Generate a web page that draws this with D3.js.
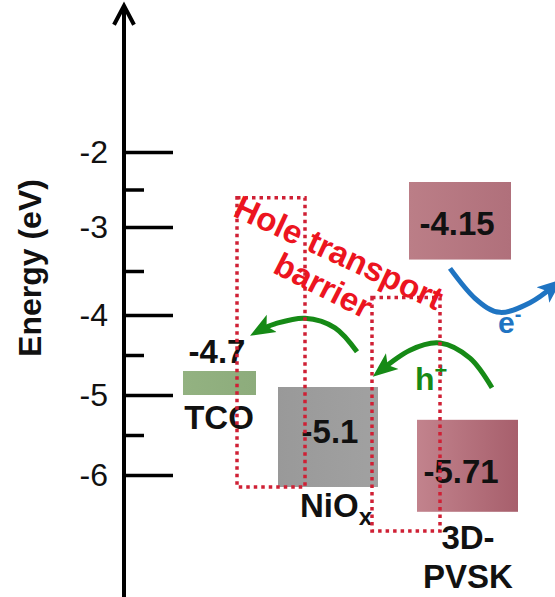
<!DOCTYPE html>
<html>
<head>
<meta charset="utf-8">
<script src="https://cdn.jsdelivr.net/npm/d3@7"></script>
<style>
  body { margin: 0; background: #fff; }
  svg { display: block; font-family: "Liberation Sans", Arial, sans-serif; }
</style>
</head>
<body>
<div class="chart"></div>
<script>
const width = 555
const height = 597

// axis ticks (eV)
const energyTicks = [-2, -3, -4, -5, -6]
const minorTicks = [-2.5, -3.5, -4.5, -5.5]

// energy levels, one entry per box
const layers = ['TCO', 'NiOx', 'PVSK-CB', 'PVSK-VB']
const colStart = [0.59, 1.54, 2.85, 2.93]
const colEnd = [1.32, 2.54, 3.87, 3.94]
const levelTop = [-4.7, -4.9, -2.4, -5.31]
const levelBottom = [-5.0, -6.15, -3.37, -6.46]
const levelText = ['-4.7', '-5.1', '-4.15', '-5.71']
const levelTextX = [0.93, 2.06, 3.33, 3.37]
const levelTextE = [-4.6, -5.6, -3.09, -6.1]

// layer names
const names = ['TCO', 'NiO', '3D-', 'PVSK']
const nameX = [0.95, 1.76, 3.44, 3.44]
const nameE = [-5.43, -6.53, -6.92, -7.41]

// dotted "hole transport barrier" frames
const barrierX0 = [1.13, 2.48]
const barrierX1 = [1.81, 3.16]
const barrierTop = [-2.61, -3.8]
const barrierBottom = [-6.15, -6.7]

// carrier arrows [x, energy]
const holeArrow1 = [[2.33, -4.46], [2.11, -4.16], [1.81, -4.04], [1.51, -4.11], [1.33, -4.21]]
const holeArrow2 = [[3.68, -4.91], [3.46, -4.54], [3.16, -4.35], [2.86, -4.44], [2.55, -4.71]]
const electronArrow = [[3.26, -3.47], [3.51, -3.81], [3.76, -3.97], [4.06, -3.86], [4.32, -3.65]]

const svg = d3.select('.chart')
  .append('svg')
  .attr('width', width)
  .attr('height', height)

const xScale = d3.scaleLinear()
  .domain([0, 4])
  .range([124, 524])

// hand drawn axis: tick spacing is not even, so a piecewise scale
const yScale = d3.scaleLinear()
  .domain([-2, -3, -4, -5, -6])
  .range([152, 227, 315, 395, 475])

const defs = svg.append('defs')

function gradient(id, c0, c1) {
  const g = defs.append('linearGradient').attr('id', id)
  g.append('stop').attr('offset', '0%').attr('stop-color', c0)
  g.append('stop').attr('offset', '100%').attr('stop-color', c1)
}
gradient('gTCO', '#93b281', '#8dac7c')
gradient('gNiO', '#999999', '#a1a1a1')
gradient('gCB', '#bb7e87', '#b0707b')
gradient('gVB', '#c2838d', '#a75f6c')
const fills = ['url(#gTCO)', 'url(#gNiO)', 'url(#gCB)', 'url(#gVB)']

function marker(id, color) {
  defs.append('marker')
    .attr('id', id)
    .attr('viewBox', '0 -11 25 22')
    .attr('refX', 17)
    .attr('refY', 0)
    .attr('markerUnits', 'userSpaceOnUse')
    .attr('markerWidth', 25)
    .attr('markerHeight', 22)
    .attr('orient', 'auto')
    .append('path')
    .attr('d', 'M0,-10L25,0L0,10L6,0Z')
    .attr('fill', color)
}
marker('headGreen', '#168a16')
marker('headBlue', '#1f74c2')

// y axis
const axisX = xScale(0)
const axisGroup = svg.append('g').attr('transform', `translate(${axisX},0)`)

const yAxis = d3.axisLeft(yScale)
  .tickValues(energyTicks)
  .tickSize(-49)
  .tickPadding(16)
  .tickFormat(d => String(d))

const yMinor = d3.axisLeft(yScale)
  .tickValues(minorTicks)
  .tickSize(-20)
  .tickFormat('')

axisGroup.call(yAxis)
axisGroup.append('g').call(yMinor)
axisGroup.selectAll('.domain').remove()
axisGroup.selectAll('.tick line')
  .attr('stroke', '#000')
  .attr('stroke-width', 3.5)
axisGroup.selectAll('.tick text')
  .attr('fill', '#111')
  .attr('font-size', '32px')
  .attr('font-family', '"Liberation Sans", Arial, sans-serif')

axisGroup.append('line')
  .attr('y1', yScale(-0.05))
  .attr('y2', height)
  .attr('stroke', '#000')
  .attr('stroke-width', 4)
axisGroup.append('path')
  .attr('d', `M-10,${yScale(-0.05) + 19}L0,${yScale(-0.05)}L10,${yScale(-0.05) + 19}`)
  .attr('fill', 'none')
  .attr('stroke', '#000')
  .attr('stroke-width', 4)

svg.append('text')
  .attr('transform', `translate(41, 268) rotate(-90)`)
  .attr('text-anchor', 'middle')
  .attr('font-size', '32px')
  .attr('font-weight', 'bold')
  .attr('fill', '#111')
  .text('Energy (eV)')

// level boxes
svg.selectAll('rect.level')
  .data(layers)
  .enter()
  .append('rect')
  .attr('class', 'level')
  .attr('x', (d, i) => xScale(colStart[i]))
  .attr('width', (d, i) => xScale(colEnd[i]) - xScale(colStart[i]))
  .attr('y', (d, i) => yScale(levelTop[i]))
  .attr('height', (d, i) => yScale(levelBottom[i]) - yScale(levelTop[i]))
  .attr('fill', (d, i) => fills[i])

svg.selectAll('text.level')
  .data(levelText)
  .enter()
  .append('text')
  .attr('class', 'level')
  .attr('x', (d, i) => xScale(levelTextX[i]))
  .attr('y', (d, i) => yScale(levelTextE[i]))
  .attr('text-anchor', 'middle')
  .attr('font-size', '33px')
  .attr('font-weight', 'bold')
  .attr('fill', '#111')
  .text(d => d)

const nameText = svg.selectAll('text.name')
  .data(names)
  .enter()
  .append('text')
  .attr('class', 'name')
  .attr('x', (d, i) => xScale(nameX[i]))
  .attr('y', (d, i) => yScale(nameE[i]))
  .attr('text-anchor', (d, i) => i === 1 ? 'start' : 'middle')
  .attr('font-size', '33px')
  .attr('font-weight', 'bold')
  .attr('fill', '#111')
  .text(d => d)
nameText.filter((d, i) => i === 1)
  .append('tspan')
  .attr('font-size', '24px')
  .attr('dy', 8)
  .text('x')

// carrier arrows
const curve = d3.line()
  .x(d => xScale(d[0]))
  .y(d => yScale(d[1]))
  .curve(d3.curveCardinal)

svg.append('path').attr('d', curve(holeArrow1))
  .attr('fill', 'none').attr('stroke', '#168a16').attr('stroke-width', 5)
  .attr('marker-end', 'url(#headGreen)')
svg.append('path').attr('d', curve(holeArrow2))
  .attr('fill', 'none').attr('stroke', '#168a16').attr('stroke-width', 5)
  .attr('marker-end', 'url(#headGreen)')
svg.append('path').attr('d', curve(electronArrow))
  .attr('fill', 'none').attr('stroke', '#1f74c2').attr('stroke-width', 5)
  .attr('marker-end', 'url(#headBlue)')

const hText = svg.append('text')
  .attr('x', xScale(2.91)).attr('y', yScale(-4.94))
  .attr('font-size', '32px').attr('font-weight', 'bold').attr('fill', '#168a16')
  .text('h')
hText.append('tspan').attr('font-size', '22px').attr('dy', -12).text('+')

const eText = svg.append('text')
  .attr('x', xScale(3.74)).attr('y', yScale(-4.225))
  .attr('font-size', '30px').attr('font-weight', 'bold').attr('fill', '#1f74c2')
  .text('e')
eText.append('tspan').attr('font-size', '20px').attr('dy', -12).text('-')

// barrier frames
svg.selectAll('rect.barrier')
  .data(barrierX0)
  .enter()
  .append('rect')
  .attr('class', 'barrier')
  .attr('x', (d, i) => xScale(barrierX0[i]))
  .attr('width', (d, i) => xScale(barrierX1[i]) - xScale(barrierX0[i]))
  .attr('y', (d, i) => yScale(barrierTop[i]))
  .attr('height', (d, i) => yScale(barrierBottom[i]) - yScale(barrierTop[i]))
  .attr('fill', 'none')
  .attr('stroke', '#cf2035')
  .attr('stroke-width', 3.5)
  .attr('stroke-dasharray', '3.5 4')

svg.append('text')
  .attr('transform', `translate(${xScale(2.10)}, ${yScale(-3.41)}) rotate(25)`)
  .attr('text-anchor', 'middle')
  .attr('font-size', '33px').attr('font-weight', 'bold').attr('fill', '#ec1420')
  .text('Hole transport')
svg.append('text')
  .attr('transform', `translate(${xScale(1.94)}, ${yScale(-3.78)}) rotate(27)`)
  .attr('text-anchor', 'middle')
  .attr('font-size', '33px').attr('font-weight', 'bold').attr('fill', '#ec1420')
  .text('barrier')
</script>
</body>
</html>
